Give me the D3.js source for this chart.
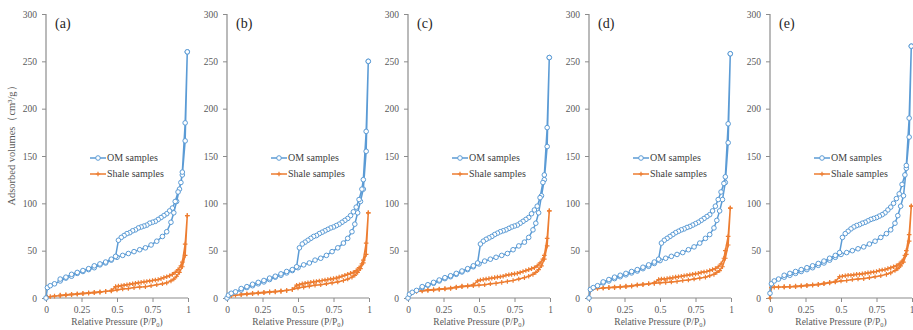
<!DOCTYPE html>
<html><head><meta charset="utf-8">
<script src="https://cdn.jsdelivr.net/npm/d3@7"></script>
<style>body{margin:0;background:#fff}svg{display:block}text{font-family:"Liberation Serif","Times New Roman",serif}</style>
</head><body>
<script>
// Shared relative pressures
const pAds = [0, 0.01, 0.03, 0.06, 0.1, 0.14, 0.18, 0.22, 0.26, 0.30, 0.34, 0.38, 0.42, 0.46, 0.50, 0.54, 0.58, 0.62, 0.66, 0.70, 0.74, 0.78, 0.82, 0.85, 0.88, 0.90, 0.92, 0.94, 0.96, 0.98, 0.995];
const pDes = [0.995, 0.98, 0.96, 0.95, 0.93, 0.91, 0.89, 0.87, 0.85, 0.83, 0.81, 0.79, 0.77, 0.75, 0.73, 0.71, 0.69, 0.67, 0.65, 0.63, 0.61, 0.59, 0.57, 0.55, 0.53, 0.51, 0.49, 0.46, 0.42, 0.38, 0.34, 0.30, 0.26, 0.22, 0.18, 0.14, 0.10];

const panelLabels = ["(a)", "(b)", "(c)", "(d)", "(e)"];
const seriesNames = ["OM samples", "Shale samples"];
const xTicks = [0, 0.25, 0.5, 0.75, 1];
const xTickLabels = ["0", "0.25", "0.5", "0.75", "1"];
const yTicks = [0, 50, 100, 150, 200, 250, 300];

// (a)
const omAdsA = [0, 11, 13, 15, 18, 21, 23, 26, 28, 30, 32, 35, 37, 40, 43, 45, 47, 49, 51, 53, 56, 60, 65, 70, 80, 90, 102, 115, 130, 166, 260];
const omDesA = [260, 185, 133, 122, 112, 102, 95, 92, 89, 87, 85, 83, 81, 80, 79, 77, 76, 75, 74, 72, 71, 69, 68, 66, 64, 61, 44, 41, 38, 36, 34, 31, 29, 27, 25, 22, 20];
const shAdsA = [0, 1, 1.5, 2, 2.5, 3, 3.5, 4, 4.5, 5, 5.5, 6, 7, 7.5, 8.5, 9.5, 10, 11, 11.5, 12, 13, 14, 15, 16, 18, 20, 23, 27, 33, 45, 87];
const shDesA = [87, 57, 38, 34, 30, 27, 25, 23.5, 22.5, 21.5, 20.5, 19.5, 19, 18.5, 18, 17.5, 17, 16.5, 16, 15.5, 15, 14.5, 14, 13.5, 13, 12.5, 12, 8, 7, 6.5, 6, 5.5, 5, 4.5, 4, 3.5, 3];
// (b)
const omAdsB = [0, 3, 5, 6.5, 8.5, 11, 13, 15, 17, 19.5, 22, 24, 26.5, 29, 32, 35, 37, 40, 42, 45, 49, 53, 58, 63, 70, 78, 90, 102, 115, 155, 250];
const omDesB = [250, 176, 125, 115, 104, 96, 91, 87, 84, 82, 80, 78, 76.5, 75, 74, 72.5, 71, 69.5, 68, 66, 65, 63, 61, 59, 57, 53, 33, 30, 28, 25.5, 23, 21, 18.5, 16.5, 14.5, 12, 10];
const shAdsB = [0, 1.5, 2.5, 3, 3.5, 4, 4.5, 5, 5.5, 6, 6.5, 7, 8, 9, 10.5, 11.5, 12.5, 13.5, 14, 15, 16, 17, 18.5, 20, 22, 24, 27, 31, 37, 46, 90];
const shDesB = [90, 58, 40, 36, 32, 29, 27, 26, 25, 24, 23, 22, 21, 20.5, 20, 19.5, 19, 18.5, 18, 17.5, 17, 16.5, 16, 15.5, 15, 14, 13.5, 9, 8, 7.5, 7, 6.5, 6, 5.5, 5, 4.5, 4];
// (c)
const omAdsC = [0, 4, 6, 8, 11, 13.5, 15.5, 18, 20.5, 22.5, 25, 27.5, 30, 33, 36, 39, 41, 43, 45, 47, 51, 55, 59, 64, 72, 79, 90, 108, 125, 160, 254];
const omDesC = [254, 180, 130, 122, 106, 97, 93, 89, 85, 83, 81, 79, 77, 76, 75, 73.5, 72, 71, 70, 68.5, 67, 65, 63.5, 62, 60, 57, 37, 34, 31, 28.5, 26, 23.5, 21.5, 19, 16.5, 14, 12];
const shAdsC = [0, 3, 5.5, 7, 7.5, 8, 8.5, 9, 9.5, 10, 11, 12, 12.5, 13, 13.5, 14, 15, 15.5, 16.5, 17.5, 18.5, 20, 21.5, 23, 25, 27, 30, 34, 41, 55, 92];
const shDesC = [92, 63, 45, 41, 37, 34, 32, 31, 30, 29, 28, 27, 26, 25.5, 25, 24.5, 24, 23, 22.5, 22, 21.5, 21, 20.5, 20, 19.5, 19, 18, 14, 13, 12.5, 11.5, 10.5, 10, 9.5, 9, 8.5, 8];
// (d)
const omAdsD = [0, 9, 11, 13, 16, 18, 20.5, 22.5, 24.5, 26.5, 28.5, 31, 33.5, 36.5, 39.5, 42, 44, 46, 48, 51, 54, 58, 63, 67, 74, 82, 92, 104, 122, 164, 258];
const omDesD = [258, 184, 128, 121, 112, 104, 97, 92, 88, 86, 84, 82, 80, 78.5, 77, 75.5, 74.5, 73, 72, 70.5, 69, 67, 65, 63, 61, 58, 41, 38, 35, 32.5, 30, 28, 26, 24, 22, 19.5, 17];
const shAdsD = [0, 8, 10, 10, 10.5, 11, 11, 11.5, 12, 12.5, 13.5, 14, 15, 15.5, 16, 16.5, 17, 17.5, 18.5, 19, 20, 21, 22, 23.5, 25, 27, 29, 33, 42, 56, 95];
const shDesD = [95, 65, 50, 42, 36, 33, 31, 30, 29, 28, 27.5, 27, 26, 25.5, 25, 24.5, 24, 23.5, 23, 22.5, 22, 21.5, 21, 20.5, 20, 20, 19.5, 16, 15, 14.5, 14, 13, 12.5, 12, 11.5, 11, 10.5];
// (e)
const omAdsE = [5, 15, 18, 20, 22, 24, 26, 28, 30, 32, 34.5, 37, 40, 43, 46, 48, 50, 52, 54, 57, 60, 64, 68, 72, 79, 87, 97, 108, 137, 170, 266];
const omDesE = [266, 190, 140, 130, 120, 110, 105, 100, 96, 93, 90, 88, 86.5, 85, 84, 83, 81.5, 80, 79, 77.5, 76.5, 75, 73, 70.5, 68, 64, 48, 45, 42, 39, 36.5, 34, 32, 30, 28, 26, 24];
const shAdsE = [0, 11, 11.5, 11.5, 11.5, 12, 12, 12.5, 13, 13.5, 14, 15, 16, 17, 18, 18.5, 19.5, 20, 20.5, 21.5, 22.5, 23.5, 25, 26.5, 29, 31, 34, 38, 46, 60, 97];
const shDesE = [97, 67, 50, 45, 39, 36, 34, 33, 32, 31, 30, 29.5, 29, 28, 27.5, 27, 26.5, 26, 25.5, 25, 25, 24.5, 24, 24, 23.5, 23, 22.5, 17.5, 16.5, 15.5, 14.5, 14, 13.5, 13, 12.5, 12, 12];

const panels = [
  {om: [omAdsA, omDesA], sh: [shAdsA, shDesA]},
  {om: [omAdsB, omDesB], sh: [shAdsB, shDesB]},
  {om: [omAdsC, omDesC], sh: [shAdsC, shDesC]},
  {om: [omAdsD, omDesD], sh: [shAdsD, shDesD]},
  {om: [omAdsE, omDesE], sh: [shAdsE, shDesE]}
];

const W = 913, H = 330;
const blue = "#5B9BD5", orange = "#ED7D31";
const axisCol = "#8c8c8c", textCol = "#595959";
const font = '"Liberation Serif","Times New Roman",serif';

const svg = d3.select("body").append("svg").attr("width", W).attr("height", H)
  .attr("font-family", font);

const panelLeft = 46, panelStep = 181, panelW = 142;
const y = d3.scaleLinear().domain([0, 300]).range([298, 14]);

const plusPath = "M-2.3,0H2.3M0,-2.3V2.3";

panels.forEach((pd, i) => {
  const x0 = panelLeft + i * panelStep;
  const x = d3.scaleLinear().domain([0, 1]).range([x0, x0 + panelW]);
  const g = svg.append("g");

  // y axis
  const ya = g.append("g").attr("transform", `translate(${x0},0)`)
    .call(d3.axisLeft(y).tickValues(yTicks).tickSize(4).tickPadding(5));
  // x axis
  const xa = g.append("g").attr("transform", `translate(0,${y(0)})`)
    .call(d3.axisBottom(x).tickValues(xTicks).tickSize(4).tickPadding(4)
      .tickFormat((d, k) => xTickLabels[k]));
  [ya, xa].forEach(a => {
    a.attr("font-family", font).attr("font-size", 9.5);
    a.select(".domain").attr("stroke", axisCol).attr("stroke-width", 1.2);
    a.selectAll(".tick line").attr("stroke", axisCol);
    a.selectAll(".tick text").attr("fill", textCol);
  });
  ya.select(".domain").attr("d", `M0,${y(300)}V${y(0)}`);
  xa.select(".domain").attr("d", `M${x0},0H${x0 + panelW}`);
  if (i === panels.length - 1) {
    xa.selectAll(".tick text").filter((d) => d === 1).attr("text-anchor", "end").attr("dx", 2);
  }

  // panel label
  g.append("text").attr("x", x0 + 9).attr("y", 28).text(panelLabels[i])
    .attr("fill", "#262626").attr("font-size", 14);

  // x title
  const xt = g.append("text").attr("x", x0 + panelW / 2).attr("y", 325)
    .attr("text-anchor", "middle").attr("fill", textCol).attr("font-size", 9.5);
  xt.append("tspan").text("Relative Pressure (P/P");
  xt.append("tspan").text("0").attr("dy", 2).attr("font-size", 6.5);
  xt.append("tspan").text(")").attr("dy", -2);

  const line = d3.line().x(d => x(d[0])).y(d => y(d[1]));

  // Shale series
  const shPts = pAds.map((p, k) => [p, pd.sh[0][k]]).concat(pDes.map((p, k) => [p, pd.sh[1][k]]));
  g.append("path").datum(shPts).attr("d", line).attr("fill", "none")
    .attr("stroke", orange).attr("stroke-width", 1.5);
  g.selectAll(".shm").data(shPts).enter().append("path").attr("class", "shm")
    .attr("transform", d => `translate(${x(d[0])},${y(d[1])})`)
    .attr("d", plusPath).attr("stroke", orange).attr("stroke-width", 1.2).attr("fill", "none");

  // OM series
  const omPts = pAds.map((p, k) => [p, pd.om[0][k]]).concat(pDes.map((p, k) => [p, pd.om[1][k]]));
  g.append("path").datum(omPts).attr("d", line).attr("fill", "none")
    .attr("stroke", blue).attr("stroke-width", 1.5);
  g.selectAll(".omm").data(omPts).enter().append("circle").attr("class", "omm")
    .attr("cx", d => x(d[0])).attr("cy", d => y(d[1])).attr("r", 2.3)
    .attr("fill", "#fff").attr("stroke", blue).attr("stroke-width", 1);

  // legend
  const lg = g.append("g").attr("transform", `translate(${x0 + 44},0)`);
  [[blue, 158], [orange, 174]].forEach(([c, ly], k) => {
    lg.append("line").attr("x1", 0).attr("x2", 16).attr("y1", ly).attr("y2", ly)
      .attr("stroke", c).attr("stroke-width", 1.5);
    if (k === 0) lg.append("circle").attr("cx", 8).attr("cy", ly).attr("r", 2.3)
      .attr("fill", "#fff").attr("stroke", c);
    else lg.append("path").attr("transform", `translate(8,${ly})`).attr("d", plusPath)
      .attr("stroke", c).attr("stroke-width", 1.2);
    lg.append("text").attr("x", 17).attr("y", ly + 3.3).text(seriesNames[k])
      .attr("fill", "#404040").attr("font-size", 10);
  });
});

// y axis title
svg.append("text").attr("transform", "translate(15,143) rotate(-90)")
  .attr("text-anchor", "middle").attr("fill", textCol).attr("font-size", 10.5)
  .text("Adsorbed volumes（cm³/g）");
</script>
</body></html>
